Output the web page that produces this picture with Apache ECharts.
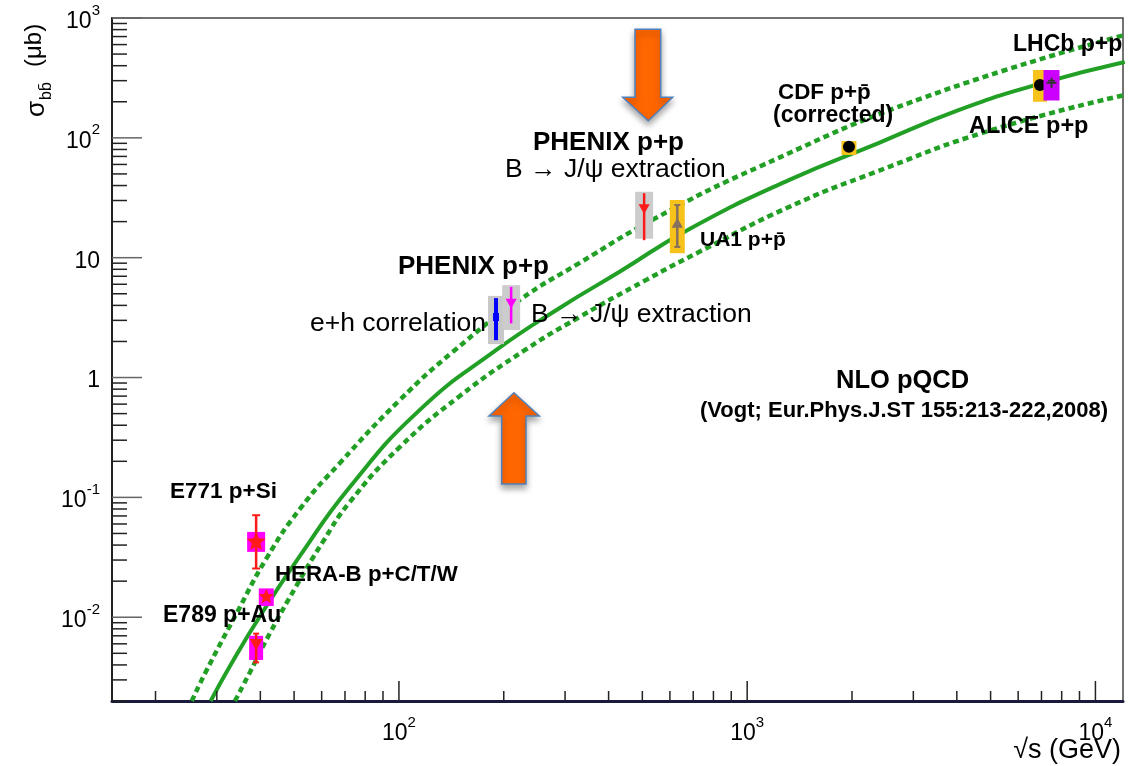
<!DOCTYPE html>
<html>
<head>
<meta charset="utf-8">
<title>b-bbar cross section vs sqrt(s)</title>
<script src="https://cdn.jsdelivr.net/npm/echarts@6/dist/echarts.min.js"></script>
<style>
  html, body { margin: 0; padding: 0; background: #ffffff; }
  #chart { width: 1128px; height: 766px; }
</style>
</head>
<body>
<div id="chart"></div>
<script>
// ---- axis ranges (GeV, microbarn) ----
const xRange = [15, 12000];
const yRange = [0.002, 1000];

// decades that carry a major tick, and the minor-tick multipliers inside each decade
const xDecades = [10, 100, 1000, 10000];
const yDecades = [0.001, 0.01, 0.1, 1, 10, 100, 1000];
const minorSteps = [2, 3, 4, 5, 6, 7, 8, 9];

// ---- NLO pQCD b-bbar cross section: central value and uncertainty band [sqrt(s), sigma] ----
const nloCentral = [
  [28.8, 0.002], [32.7, 0.0039], [39.9, 0.0102], [51.9, 0.0323], [72.2, 0.1216],
  [114.6, 0.535], [190, 1.69], [288.7, 3.79], [429, 7.59], [681, 17.3],
  [1317, 44.4], [2382, 90.5], [4044, 170], [6855, 281], [12140, 430]
];
const nloUpper = [
  [25.42, 0.002], [27.76, 0.00341], [34.2, 0.0108], [41.7, 0.0311], [51.9, 0.0797],
  [67.6, 0.193], [100.5, 0.648], [142.5, 1.63], [221.8, 4.43], [329.5, 9.01],
  [546.4, 21.4], [1078, 57.1], [3245, 219], [12140, 721]
];
const nloLower = [
  [33.82, 0.002], [37.35, 0.00348], [42.6, 0.00735], [50.9, 0.0185], [60.4, 0.0423],
  [72.2, 0.0912], [100.5, 0.2624], [149.3, 0.699], [232.2, 1.726], [329.5, 3.19],
  [511.5, 6.50], [726.6, 11.14], [1317, 26.45], [2334, 51.8], [5035, 116.2], [12140, 227.7]
];

// ---- measurements: [sqrt(s), sigma, stat low, stat high, syst low, syst high] ----
const e771 = [[38.9, 0.0425, 0.0255, 0.071, 0.0351, 0.0515]];
const heraB = [[41.6, 0.0148, 0.0148, 0.0148, 0.0124, 0.0174]];
const e789 = [[38.9, 0.0060, 0.0042, 0.0073, 0.0044, 0.0070]];
const phenixEh = [[190, 3.2, 2.05, 4.6, 1.9, 4.8]];
const phenixJpsi200 = [[210, 4.2, 2.83, 5.71, 2.49, 5.9]];
const phenixJpsi500 = [[506, 25.8, 14.0, 34.5, 14.4, 35.5]];
const ua1 = [[630, 19.3, 12.3, 27.5, 10.9, 30.3]];
const cdf = [[1960, 84.3, 84.3, 84.3, 72, 94]];
const lhcb = [[6930, 276, 276, 276, 200, 368]];
const alice = [[7480, 288, 288, 288, 205, 368]];

const FONT = "'Liberation Sans', Arial, Helvetica, sans-serif";
const GREEN = '#22a026';

// tick lists built from the decade arrays
function tickList(decades, range, fixedOther, isX) {
  const out = [];
  decades.forEach(d => {
    minorSteps.concat([1]).forEach(m => {
      const v = d * m;
      if (v >= range[0] * 0.9999 && v <= range[1] * 1.0001) {
        out.push(isX ? [v, fixedOther, m === 1 ? 1 : 0] : [fixedOther, v, m === 1 ? 1 : 0]);
      }
    });
  });
  return out;
}
const xTicks = tickList(xDecades, xRange, yRange[0], true);
const yTicks = tickList(yDecades, yRange, xRange[0], false);

function powerLabel(v, allowPlain) {
  const lg = Math.log10(v);
  const e = Math.round(lg);
  if (Math.abs(lg - e) > 1e-6) return '';
  if (allowPlain && e === 0) return '{b|1}';
  if (allowPlain && e === 1) return '{b|10}';
  return '{b|10}{s|' + e + '}';
}
const labelRich = {
  b: { fontSize: 23, fontFamily: FONT, color: '#000', lineHeight: 30, verticalAlign: 'bottom' },
  s: { fontSize: 15, fontFamily: FONT, color: '#000', verticalAlign: 'top' }
};

// error bar + systematic box + marker renderer
function pointRenderer(cfg) {
  return function (params, api) {
    const x = api.value(0);
    const c = api.coord([x, api.value(1)]);
    const eLo = api.coord([x, api.value(2)]);
    const eHi = api.coord([x, api.value(3)]);
    const sLo = api.coord([x, api.value(4)]);
    const sHi = api.coord([x, api.value(5)]);
    const ch = [];
    ch.push({
      type: 'rect',
      shape: { x: c[0] - cfg.boxW / 2, y: sHi[1], width: cfg.boxW, height: sLo[1] - sHi[1] },
      style: { fill: cfg.boxColor }
    });
    if (eLo[1] - eHi[1] > 0.5) {
      ch.push({
        type: 'line',
        shape: { x1: c[0], y1: eHi[1], x2: c[0], y2: eLo[1] },
        style: { stroke: cfg.barColor, lineWidth: cfg.barWidth }
      });
      if (cfg.caps) {
        [eHi[1], eLo[1]].forEach(yy => ch.push({
          type: 'line',
          shape: { x1: c[0] - cfg.caps, y1: yy, x2: c[0] + cfg.caps, y2: yy },
          style: { stroke: cfg.barColor, lineWidth: 2 }
        }));
      }
    }
    const s = cfg.size, cx = c[0], cy = c[1];
    let m;
    if (cfg.marker === 'star') {
      const pts = [];
      for (let i = 0; i < 10; i++) {
        const r = i % 2 === 0 ? s : s * 0.45;
        const a = -Math.PI / 2 + i * Math.PI / 5;
        pts.push([cx + r * Math.cos(a), cy + r * Math.sin(a)]);
      }
      m = { type: 'polygon', shape: { points: pts }, style: { fill: cfg.color } };
    } else if (cfg.marker === 'triDown') {
      m = { type: 'polygon', shape: { points: [[cx - s * 0.8, cy - s * 0.6], [cx + s * 0.8, cy - s * 0.6], [cx, cy + s * 0.8]] }, style: { fill: cfg.color } };
    } else if (cfg.marker === 'triUp') {
      m = { type: 'polygon', shape: { points: [[cx - s * 0.8, cy + s * 0.6], [cx + s * 0.8, cy + s * 0.6], [cx, cy - s * 0.8]] }, style: { fill: cfg.color } };
    } else if (cfg.marker === 'square') {
      m = { type: 'rect', shape: { x: cx - s * 0.6, y: cy - s * 0.8, width: s * 1.2, height: s * 1.6 }, style: { fill: cfg.color } };
    } else if (cfg.marker === 'circle') {
      m = { type: 'circle', shape: { cx: cx, cy: cy, r: s }, style: { fill: cfg.color } };
    } else if (cfg.marker === 'cross') {
      m = { type: 'group', children: [
        { type: 'line', shape: { x1: cx - s, y1: cy, x2: cx + s, y2: cy }, style: { stroke: cfg.color, lineWidth: 2 } },
        { type: 'line', shape: { x1: cx, y1: cy - s, x2: cx, y2: cy + s }, style: { stroke: cfg.color, lineWidth: 2 } },
        { type: 'line', shape: { x1: cx - s * 0.7, y1: cy - s * 0.4, x2: cx + s * 0.7, y2: cy - s * 0.4 }, style: { stroke: cfg.color, lineWidth: 1.5 } }
      ] };
    }
    if (m) ch.push(m);
    return { type: 'group', children: ch };
  };
}

function pointSeries(name, data, cfg) {
  return {
    name: name, type: 'custom', data: data, z: 5, silent: true,
    encode: { x: 0, y: 1 },
    renderItem: pointRenderer(cfg)
  };
}

function curveSeries(name, data, dotted) {
  return {
    name: name, type: 'line', data: data, showSymbol: false, symbol: 'none',
    smooth: 0.5, clip: true, z: 3, silent: true,
    lineStyle: dotted
      ? { color: GREEN, width: 4.5, type: [6, 4], cap: 'butt' }
      : { color: GREEN, width: 4 }
  };
}

const txt = (x, y, text, size, bold, extra) => Object.assign({
  type: 'text', x: x, y: y, z: 20, silent: true,
  style: {
    text: text, fill: '#000', fontSize: size, fontFamily: FONT,
    fontWeight: bold ? 'bold' : 'normal', textVerticalAlign: 'middle', textAlign: 'left'
  }
}, extra || {});

const arrowStyle = {
  fill: '#ff6600', stroke: '#4f81bd', lineWidth: 1.5,
  shadowBlur: 6, shadowColor: 'rgba(0,0,0,0.35)', shadowOffsetY: 4
};

const chart = echarts.init(document.getElementById('chart'), null, { renderer: 'canvas' });

chart.setOption({
  animation: false,
  backgroundColor: '#ffffff',
  grid: {
    left: 112, right: 5, top: 18, bottom: 65,
    show: true, borderColor: '#444', borderWidth: 1.5, backgroundColor: 'transparent'
  },
  xAxis: {
    type: 'log', logBase: 10, min: xRange[0], max: xRange[1],
    axisLine: { show: true, lineStyle: { color: '#1a1a3c', width: 3 } },
    axisTick: { show: false }, minorTick: { show: false },
    splitLine: { show: false },
    axisLabel: {
      margin: 14, formatter: v => powerLabel(v, false), rich: labelRich,
      showMinLabel: true, showMaxLabel: true, hideOverlap: false
    }
  },
  yAxis: {
    type: 'log', logBase: 10, min: yRange[0], max: yRange[1],
    axisLine: { show: true, lineStyle: { color: '#222', width: 2 } },
    axisTick: { show: false }, minorTick: { show: false },
    splitLine: { show: false },
    axisLabel: {
      margin: 12, formatter: v => powerLabel(v, true), rich: labelRich,
      showMinLabel: true, showMaxLabel: true, hideOverlap: false
    }
  },
  series: [
    // axis ticks (ROOT style: long decade ticks, short 2..9 ticks)
    {
      name: 'xTicks', type: 'custom', data: xTicks, z: 4, silent: true, encode: { x: 0, y: 1 },
      renderItem: (params, api) => {
        const p = api.coord([api.value(0), api.value(1)]);
        const len = api.value(2) ? 20 : 10;
        return { type: 'line', shape: { x1: p[0], y1: p[1], x2: p[0], y2: p[1] - len },
                 style: { stroke: '#222', lineWidth: 1.5 } };
      }
    },
    {
      name: 'yTicks', type: 'custom', data: yTicks, z: 4, silent: true, encode: { x: 0, y: 1 },
      renderItem: (params, api) => {
        const p = api.coord([api.value(0), api.value(1)]);
        const major = api.value(2);
        return { type: 'line', shape: { x1: p[0], y1: p[1], x2: p[0] + (major ? 30 : 15), y2: p[1] },
                 style: { stroke: major ? '#666' : '#222', lineWidth: 1.5 } };
      }
    },
    curveSeries('NLO upper', nloUpper, true),
    curveSeries('NLO lower', nloLower, true),
    curveSeries('NLO central', nloCentral, false),
    pointSeries('E771 p+Si', e771, { boxW: 18, boxColor: '#ff00ff', barColor: '#ff1a1a', barWidth: 2.5, caps: 4, marker: 'star', color: '#ff1a1a', size: 10 }),
    pointSeries('HERA-B', heraB, { boxW: 15, boxColor: '#ff00ff', barColor: '#ff1a1a', barWidth: 2.5, marker: 'star', color: '#ff1a1a', size: 8 }),
    pointSeries('E789 p+Au', e789, { boxW: 14, boxColor: '#ff00ff', barColor: '#ff1a1a', barWidth: 2.5, caps: 3, marker: 'triDown', color: '#ff1a1a', size: 8 }),
    pointSeries('PHENIX e+h', phenixEh, { boxW: 16, boxColor: '#c8c8c8', barColor: '#0000ff', barWidth: 4, marker: 'square', color: '#0000ff', size: 5 }),
    pointSeries('PHENIX J/psi 200', phenixJpsi200, { boxW: 18, boxColor: '#cccccc', barColor: '#ff00ff', barWidth: 2.5, marker: 'triDown', color: '#ff00ff', size: 7 }),
    pointSeries('PHENIX J/psi 500', phenixJpsi500, { boxW: 18, boxColor: '#cccccc', barColor: '#ff1a1a', barWidth: 2.5, marker: 'triDown', color: '#ff1a1a', size: 7 }),
    pointSeries('UA1', ua1, { boxW: 15, boxColor: '#f7c31a', barColor: '#86705e', barWidth: 2.5, caps: 3, marker: 'triUp', color: '#86705e', size: 7 }),
    pointSeries('CDF', cdf, { boxW: 15, boxColor: '#f7c31a', barColor: '#000', barWidth: 2, marker: 'circle', color: '#000', size: 6 }),
    pointSeries('LHCb', lhcb, { boxW: 14, boxColor: '#f7c31a', barColor: '#000', barWidth: 2, marker: 'circle', color: '#000', size: 6 }),
    pointSeries('ALICE', alice, { boxW: 16, boxColor: '#cc00ff', barColor: '#222', barWidth: 2, marker: 'cross', color: '#333', size: 5 })
  ],
  graphic: [
    // highlight arrows
    { type: 'polygon', z: 15, silent: true,
      shape: { points: [[635, 29.3], [660.7, 29.3], [660.7, 97.3], [672.7, 97.3], [648.3, 120.7], [622.7, 97.3], [635, 97.3]] },
      style: arrowStyle },
    { type: 'polygon', z: 15, silent: true,
      shape: { points: [[514, 392.7], [539.3, 416], [526, 416], [526, 484], [501.7, 484], [501.7, 416], [489, 416]] },
      style: arrowStyle },

    // experiment labels
    txt(170, 492, 'E771 p+Si', 22.5, true),
    txt(275, 575, 'HERA-B p+C/T/W', 22.3, true),
    txt(163, 616, 'E789 p+Au', 23, true),
    txt(398, 267, 'PHENIX p+p', 26, true),
    txt(310, 324, 'e+h correlation', 26.5, false),
    txt(531, 315, 'B \u2192 J/\u03c8 extraction', 26.5, false),
    txt(533, 143, 'PHENIX p+p', 26, true),
    txt(505, 170, 'B \u2192 J/\u03c8 extraction', 26.5, false),
    txt(700, 240, 'UA1 p+p\u0304', 21, true),
    txt(778, 93, 'CDF p+p\u0304', 22.4, true),
    txt(773, 116, '(corrected)', 23, true),
    txt(1013, 45, 'LHCb p+p', 23, true),
    txt(969, 127, 'ALICE p+p', 23.5, true),
    txt(836, 381, 'NLO pQCD', 25.5, true),
    txt(700, 411, '(Vogt; Eur.Phys.J.ST 155:213-222,2008)', 22, true),

    // axis titles
    { type: 'group', x: 37, y: 117, rotation: Math.PI / 2, z: 20, silent: true,
      children: [
        { type: 'text', x: 0, y: 0, style: { text: '\u03c3', fontSize: 26, fontFamily: FONT, fill: '#000', textVerticalAlign: 'middle' } },
        { type: 'text', x: 17, y: 10, style: { text: 'bb\u0304', fontSize: 16, fontFamily: FONT, fill: '#000', textVerticalAlign: 'middle' } },
        { type: 'text', x: 50, y: -3, style: { text: '(\u03bcb)', fontSize: 24, fontFamily: FONT, fill: '#000', textVerticalAlign: 'middle' } }
      ] },
    { type: 'text', x: 1121, y: 751, z: 20, silent: true,
      style: { text: '\u221as (GeV)', fontSize: 27, fontFamily: FONT, fill: '#000', textAlign: 'right', textVerticalAlign: 'middle' } }
  ]
});
</script>
</body>
</html>
